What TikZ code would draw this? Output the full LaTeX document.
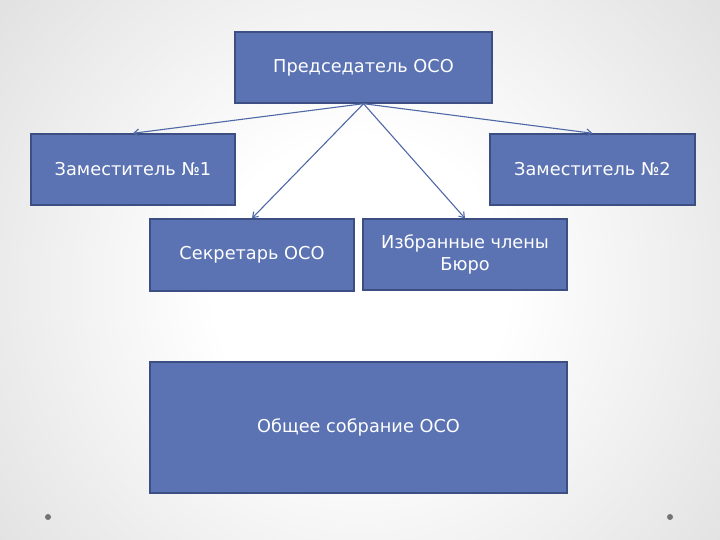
\documentclass[tikz,border=0pt]{standalone}
\usepackage{fontspec}
\setmainfont{DejaVu Sans}
\usetikzlibrary{arrows.meta,positioning}
\definecolor{OsoBlue}{HTML}{5B73B3}
\definecolor{OsoEdge}{HTML}{3D4F82}
\definecolor{OsoLine}{HTML}{4F68A8}
\pgfdeclareradialshading{osoglow}{\pgfpoint{0bp}{0bp}}{color(0bp)=(white); color(8bp)=(white); color(40bp)=(black!22); color(50bp)=(black!28)}

\begin{document}
\begin{tikzpicture}[x=1bp,y=1bp,
    osobox/.style={draw=OsoEdge,line width=1.4bp,fill=OsoBlue,text=white,font=\fontsize{17.8}{22}\selectfont,align=center,inner sep=0pt},
    osolink/.style={-{Straight Barb[length=5bp,width=7bp]},OsoLine,line width=1.1bp}]
    \useasboundingbox (0,0) rectangle (720,540);
    \begin{scope}
      \clip (0,0) rectangle (720,540);
      \shade[shading=osoglow] (360,255) circle (460);
    \end{scope}
    \fill[black!55] (48,23) circle (3);
    \fill[black!55] (670,23) circle (3);
    \node[osobox,minimum width=257bp,minimum height=71bp] (chair) at (363.5,472.5) {Председатель ОСО};
    \node[osobox,minimum width=204bp,minimum height=71bp] (dep1) at (133,370.5) {Заместитель №1};
    \node[osobox,minimum width=205bp,minimum height=71bp] (dep2) at (592.5,370.5) {Заместитель №2};
    \node[osobox,minimum width=204bp,minimum height=72bp] (secr) at (252,285) {Секретарь ОСО};
    \node[osobox,minimum width=204bp,minimum height=71bp] (members) at (465,285.5) {Избранные члены\\Бюро};
    \node[osobox,minimum width=417bp,minimum height=131bp] (assembly) at (358.5,112.5) {Общее собрание ОСО};
    \foreach \x in {dep1,secr,members,dep2}{\draw[osolink] (chair.south) -- (\x.north);}
  \end{tikzpicture}
\end{document}
